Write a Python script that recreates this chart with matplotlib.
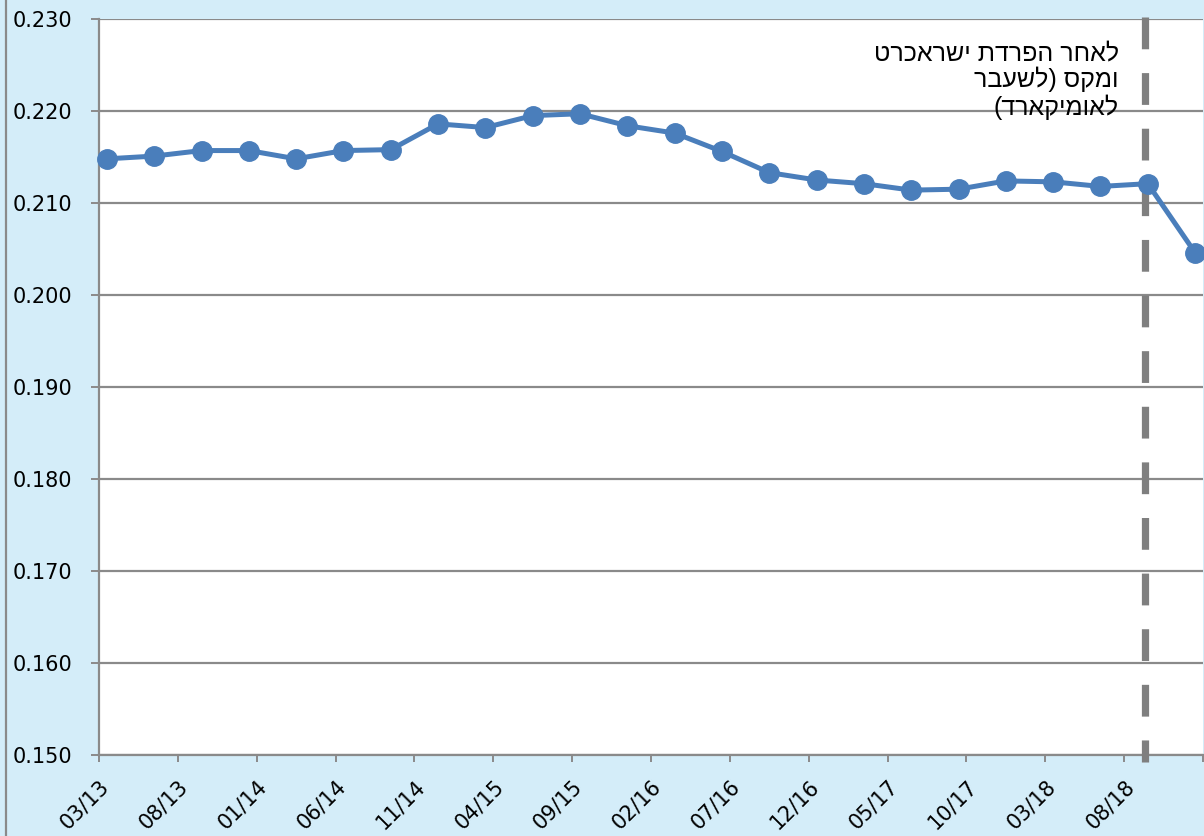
import matplotlib
matplotlib.use("Agg")
import matplotlib.pyplot as plt
from matplotlib.lines import Line2D
from matplotlib.transforms import blended_transform_factory, ScaledTranslation

# ---- data ----
point_labels = ["03/13", "06/13", "09/13", "12/13", "03/14", "06/14", "09/14", "12/14",
                "03/15", "06/15", "09/15", "12/15", "03/16", "06/16", "09/16", "12/16",
                "03/17", "06/17", "09/17", "12/17", "03/18", "06/18", "09/18", "12/18"]
values = [0.2148, 0.2151, 0.2157, 0.2157, 0.2148, 0.2157, 0.2158, 0.2186,
          0.2182, 0.2195, 0.2197, 0.2184, 0.2176, 0.2156, 0.2133, 0.2125,
          0.2121, 0.2114, 0.2115, 0.2124, 0.2123, 0.2118, 0.2121, 0.2046]
tick_labels = ["03/13", "08/13", "01/14", "06/14", "11/14", "04/15", "09/15",
               "02/16", "07/16", "12/16", "05/17", "10/17", "03/18", "08/18", ""]
y_ticks = [0.150, 0.160, 0.170, 0.180, 0.190, 0.200, 0.210, 0.220, 0.230]
event_label_logical = ["לאחר הפרדת ישראכרט", "ומקס (לשעבר", "לאומיקארד)"]
event_month = 66.3  # months after 03/13


def month_index(lbl):
    m, y = lbl.split("/")
    return (int(y) - 13) * 12 + (int(m) - 3)


def visual(s):
    mirror = {"(": ")", ")": "("}
    return "".join(mirror.get(c, c) for c in reversed(s))


x = [month_index(l) + 0.5 for l in point_labels]
tick_pos = list(range(0, 71, 5))

BG = "#d4edf9"
GRID = "#8a8a8a"
BLUE = "#4a7ebb"

fig = plt.figure(figsize=(12.04, 8.36), dpi=100, facecolor=BG)
ax = fig.add_axes([99 / 1204, 1 - 755 / 836, (1203 - 99) / 1204, (755 - 19) / 836])
ax.set_facecolor("white")

ax.set_xlim(0, 70)
ax.set_ylim(0.150, 0.230)
ax.set_yticks(y_ticks)
ax.set_yticklabels([f"{v:.3f}" for v in y_ticks])
ax.set_xticks(tick_pos)
ax.set_xticklabels([""] * len(tick_pos))

ax.grid(axis="y", color=GRID, linewidth=1.6)
ax.set_axisbelow(True)
for side in ["top", "right"]:
    ax.spines[side].set_visible(False)
for side in ["left", "bottom"]:
    ax.spines[side].set_color(GRID)
    ax.spines[side].set_linewidth(1.6)

ax.tick_params(axis="y", length=6, width=1.4, color=GRID, pad=13, labelsize=15)
ax.tick_params(axis="x", length=5, width=1.4, color=GRID, labelsize=15)

# rotated x labels, anchored at their upper-right corner
base = blended_transform_factory(ax.transData, ax.transAxes)
off = ScaledTranslation(0 / 100, -21 / 100, fig.dpi_scale_trans)
for p, lbl in zip(tick_pos, tick_labels):
    if lbl:
        ax.text(p, 0, lbl, transform=base + off, rotation=45, rotation_mode="anchor",
                ha="right", va="top", fontsize=15, clip_on=False)

ax.plot(x, values, color=BLUE, linewidth=3.6, marker="o", markersize=14,
        markerfacecolor=BLUE, markeredgecolor=BLUE, clip_on=False, zorder=4)

ax.plot([event_month, event_month], [0.23022, 0.14924], color="#7f7f7f",
        linewidth=5.2, linestyle=(0, (4.4, 3.3)), clip_on=False, zorder=3,
        solid_capstyle="butt", dash_capstyle="butt")

txt = "\n".join(visual(s) for s in event_label_logical)
fig.text(1119 / 1204, 1 - 41 / 836, txt, ha="right", va="top", multialignment="right",
         fontsize=18, family=["Liberation Sans", "DejaVu Sans"], linespacing=1.1,
         color="black")

# left border line of the chart frame
fig.add_artist(Line2D([6 / 1204, 6 / 1204], [0, 1], transform=fig.transFigure,
                      color="#8a8a8a", linewidth=1.6))

fig.savefig("out.png", dpi=100, facecolor=BG)
